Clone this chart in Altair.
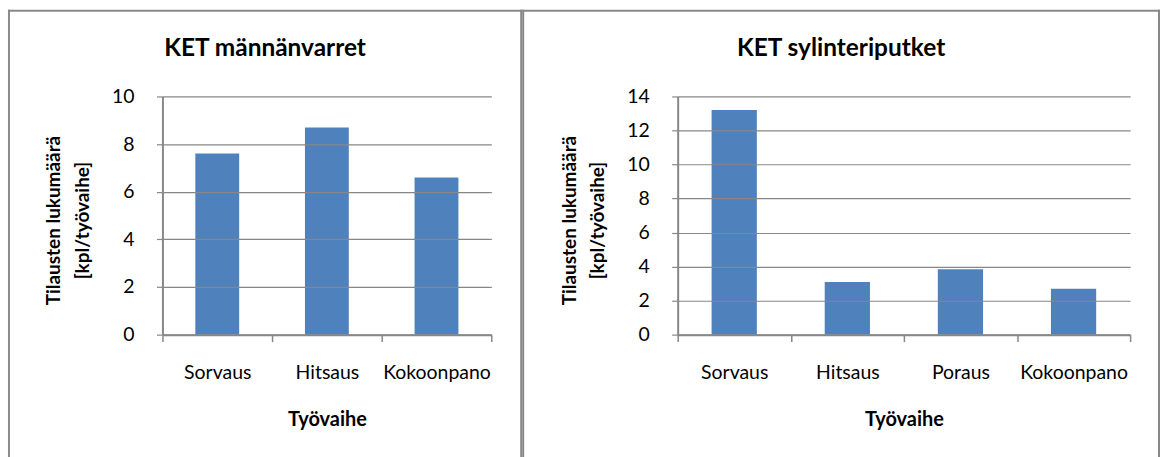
import altair as alt
import pandas as pd

FONT = "Lato"
BAR_COLOR = "#4F81BD"
GRID_COLOR = "#878787"
FRAME_COLOR = "#898989"

# KET männänvarret
rod_steps = ["Sorvaus", "Hitsaus", "Kokoonpano"]
rod_orders = [7.6, 8.7, 6.6]

# KET sylinteriputket
tube_steps = ["Sorvaus", "Hitsaus", "Poraus", "Kokoonpano"]
tube_orders = [13.2, 3.1, 3.85, 2.7]

y_title = ["Tilausten lukumäärä", "[kpl/työvaihe]"]
x_title = "Työvaihe"

PLOT_H = 239
FRAME_TOP = -86
FRAME_BOTTOM = 361


def panel(title, steps, values, y_max, y_step, width, frame_left, frame_right, title_x):
    df = pd.DataFrame({"vaihe": steps, "maara": values})

    bars = alt.Chart(df).mark_bar(
        color=BAR_COLOR, width=alt.RelativeBandSize(0.4)
    ).encode(
        x=alt.X(
            "vaihe:N",
            sort=steps,
            scale=alt.Scale(paddingInner=0, paddingOuter=0),
            axis=alt.Axis(
                title=x_title,
                labelAngle=0,
                labelFont=FONT,
                labelFontSize=19.5,
                labelColor="#000000",
                labelBaseline="alphabetic",
                labelPadding=37,
                tickBand="extent",
                tickSize=7,
                tickWidth=1.5,
                tickColor=GRID_COLOR,
                domainColor=GRID_COLOR,
                domainWidth=2,
                titleFont=FONT,
                titleFontSize=20,
                titleFontWeight="bold",
                titleColor="#000000",
                titleBaseline="alphabetic",
                titleY=91,
                zindex=1,
            ),
        ),
        y=alt.Y(
            "maara:Q",
            scale=alt.Scale(domain=[0, y_max], nice=False),
            axis=alt.Axis(
                values=list(range(0, y_max + 1, y_step)),
                title=y_title,
                grid=True,
                gridColor=GRID_COLOR,
                gridWidth=1.2,
                labelFont=FONT,
                labelFontSize=19.5,
                labelColor="#000000",
                labelPadding=22.5,
                tickSize=6,
                tickWidth=1.2,
                tickColor=GRID_COLOR,
                domainColor=GRID_COLOR,
                domainWidth=2,
                titleFont=FONT,
                titleFontSize=19,
                titleFontWeight="bold",
                titleColor="#000000",
                titleAngle=270,
                titleAlign="center",
                titleBaseline="alphabetic",
                titleLineHeight=29,
                titleX=-103,
                titleY=124,
                zindex=1,
            ),
        ),
    )

    # chart-area frame: left, top and right edges
    edge = alt.Chart(pd.DataFrame({"e": [0]}))
    frame_style = dict(color=FRAME_COLOR, strokeWidth=2, strokeCap="square")
    left = edge.mark_rule(**frame_style).encode(
        x=alt.value(frame_left), y=alt.value(FRAME_TOP), y2=alt.value(FRAME_BOTTOM)
    )
    right = edge.mark_rule(**frame_style).encode(
        x=alt.value(frame_right), y=alt.value(FRAME_TOP), y2=alt.value(FRAME_BOTTOM)
    )
    top = edge.mark_rule(**frame_style).encode(
        x=alt.value(frame_left), x2=alt.value(frame_right), y=alt.value(FRAME_TOP)
    )

    # chart title, centred on the chart area
    heading = alt.Chart(pd.DataFrame({"otsikko": [title]})).mark_text(
        font=FONT,
        fontSize=24.5,
        fontWeight="bold",
        color="#000000",
        align="center",
        baseline="alphabetic",
    ).encode(text="otsikko:N", x=alt.value(title_x), y=alt.value(-40.7))

    return alt.layer(left, right, top, bars, heading).properties(
        width=width, height=PLOT_H
    )


rods = panel("KET männänvarret", rod_steps, rod_orders, 10, 2, 330, -154, 360, 103)
tubes = panel("KET sylinteriputket", tube_steps, tube_orders, 14, 2, 454, -155, 483, 164)

chart = alt.hconcat(rods, tubes, spacing=-2).properties(
    padding={"left": 7, "top": 8, "right": 0, "bottom": 0},
    background="#ffffff",
).configure_view(stroke=None)

chart.save("out.html", embed_options={"renderer": "svg", "actions": False})
